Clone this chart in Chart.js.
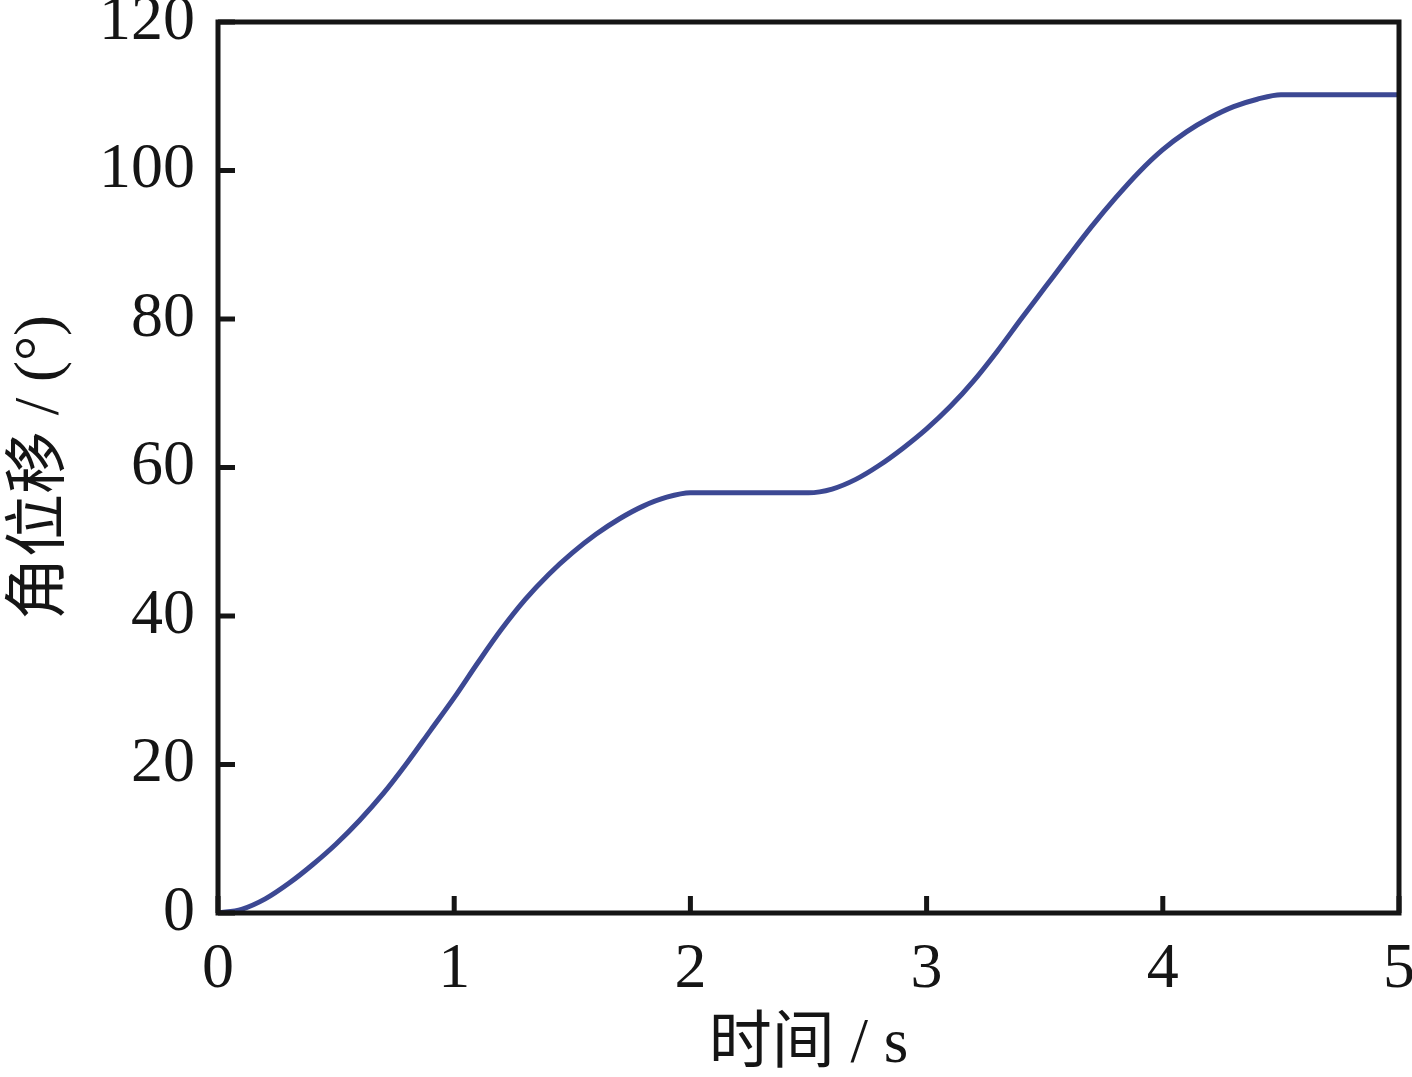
<!DOCTYPE html>
<html>
<head>
<meta charset="utf-8">
<script src="https://cdn.jsdelivr.net/npm/chart.js@4.4.1/dist/chart.umd.min.js"></script>
<style>
  html, body { margin: 0; padding: 0; background: #fff; }
  #wrap { width: 1412px; height: 1077px; }
</style>
</head>
<body>
<div id="wrap"><canvas id="my_chart"></canvas></div>
<script>
// Time (s) and angular displacement (deg)
const times = [0, 0.1, 0.2, 0.3, 0.4, 0.5, 0.6, 0.7, 0.8, 0.9,
  1.0, 1.1, 1.2, 1.3, 1.4, 1.5, 1.6, 1.7, 1.8, 1.9, 2.0,
  2.5, 2.6, 2.7, 2.8, 2.9, 3.0, 3.1, 3.2, 3.3, 3.4, 3.5,
  3.6, 3.7, 3.8, 3.9, 4.0, 4.1, 4.2, 4.3, 4.4, 4.5, 5.0];
const angles = [0, 0.5, 1.9, 4.0, 6.5, 9.3, 12.5, 16.1, 20.2, 24.6,
  29.0, 33.7, 38.2, 42.2, 45.6, 48.5, 51.0, 53.1, 54.8, 56.0, 56.6,
  56.6, 57.1, 58.4, 60.3, 62.6, 65.2, 68.2, 71.7, 75.7, 80.0, 84.2,
  88.4, 92.5, 96.3, 99.8, 102.8, 105.2, 107.1, 108.6, 109.6, 110.2, 110.2];

const xTicks = [0, 1, 2, 3, 4, 5];
const yTicks = [0, 20, 40, 60, 80, 100, 120];

const ink = '#151515';
const tickFont = { family: '"Liberation Serif", "Times New Roman", serif', size: 64 };
const titleFont = { family: '"Liberation Serif", "Noto Sans CJK SC", serif', size: 63, lineHeight: 1 };

// frame around the plot plus inward tick marks
const framePlugin = {
  id: 'frame',
  afterDatasetsDraw(chart) {
    const { ctx, chartArea: a, scales } = chart;
    ctx.save();
    ctx.strokeStyle = ink;
    ctx.lineWidth = 5;
    ctx.beginPath();
    xTicks.forEach(v => {
      const px = scales.x.getPixelForValue(v);
      ctx.moveTo(px, a.bottom);
      ctx.lineTo(px, a.bottom - 17);
    });
    yTicks.forEach(v => {
      const py = scales.y.getPixelForValue(v);
      ctx.moveTo(a.left, py);
      ctx.lineTo(a.left + 17, py);
    });
    ctx.stroke();
    ctx.strokeRect(a.left, a.top, a.right - a.left, a.bottom - a.top);
    ctx.restore();
  }
};

const ctx = document.getElementById('my_chart').getContext('2d');

const myChart = new Chart(ctx, {
  type: 'line',
  data: {
    datasets: [{
      data: times.map((t, i) => ({ x: t, y: angles[i] })),
      borderColor: '#3c4893',
      borderWidth: 5,
      pointRadius: 0,
      cubicInterpolationMode: 'monotone',
      fill: false
    }]
  },
  options: {
    responsive: true,
    maintainAspectRatio: false,
    animation: false,
    layout: { autoPadding: false, padding: { top: 22, right: 13, left: 0, bottom: 0 } },
    plugins: { legend: { display: false }, tooltip: { enabled: false } },
    scales: {
      x: {
        type: 'linear',
        min: 0,
        max: 5,
        afterFit: s => { s.height = 164; s.paddingLeft = 0; s.paddingRight = 0; },
        afterBuildTicks: s => { s.ticks = xTicks.map(v => ({ value: v })); },
        grid: { display: false },
        border: { display: false },
        ticks: { color: ink, font: tickFont, padding: 11, maxRotation: 0 },
        title: { display: true, text: '时间 / s', color: ink, font: titleFont, padding: { top: 0, bottom: 0 } }
      },
      y: {
        min: 0,
        max: 120,
        afterFit: s => { s.width = 218; s.paddingTop = 0; s.paddingBottom = 0; },
        afterBuildTicks: s => { s.ticks = yTicks.map(v => ({ value: v })); },
        grid: { display: false },
        border: { display: false },
        ticks: { color: ink, font: tickFont, padding: 15 },
        title: { display: true, text: '角位移 / (°)', color: ink, font: titleFont, padding: { top: 10, bottom: 0 } }
      }
    }
  },
  plugins: [framePlugin]
});
</script>
</body>
</html>
